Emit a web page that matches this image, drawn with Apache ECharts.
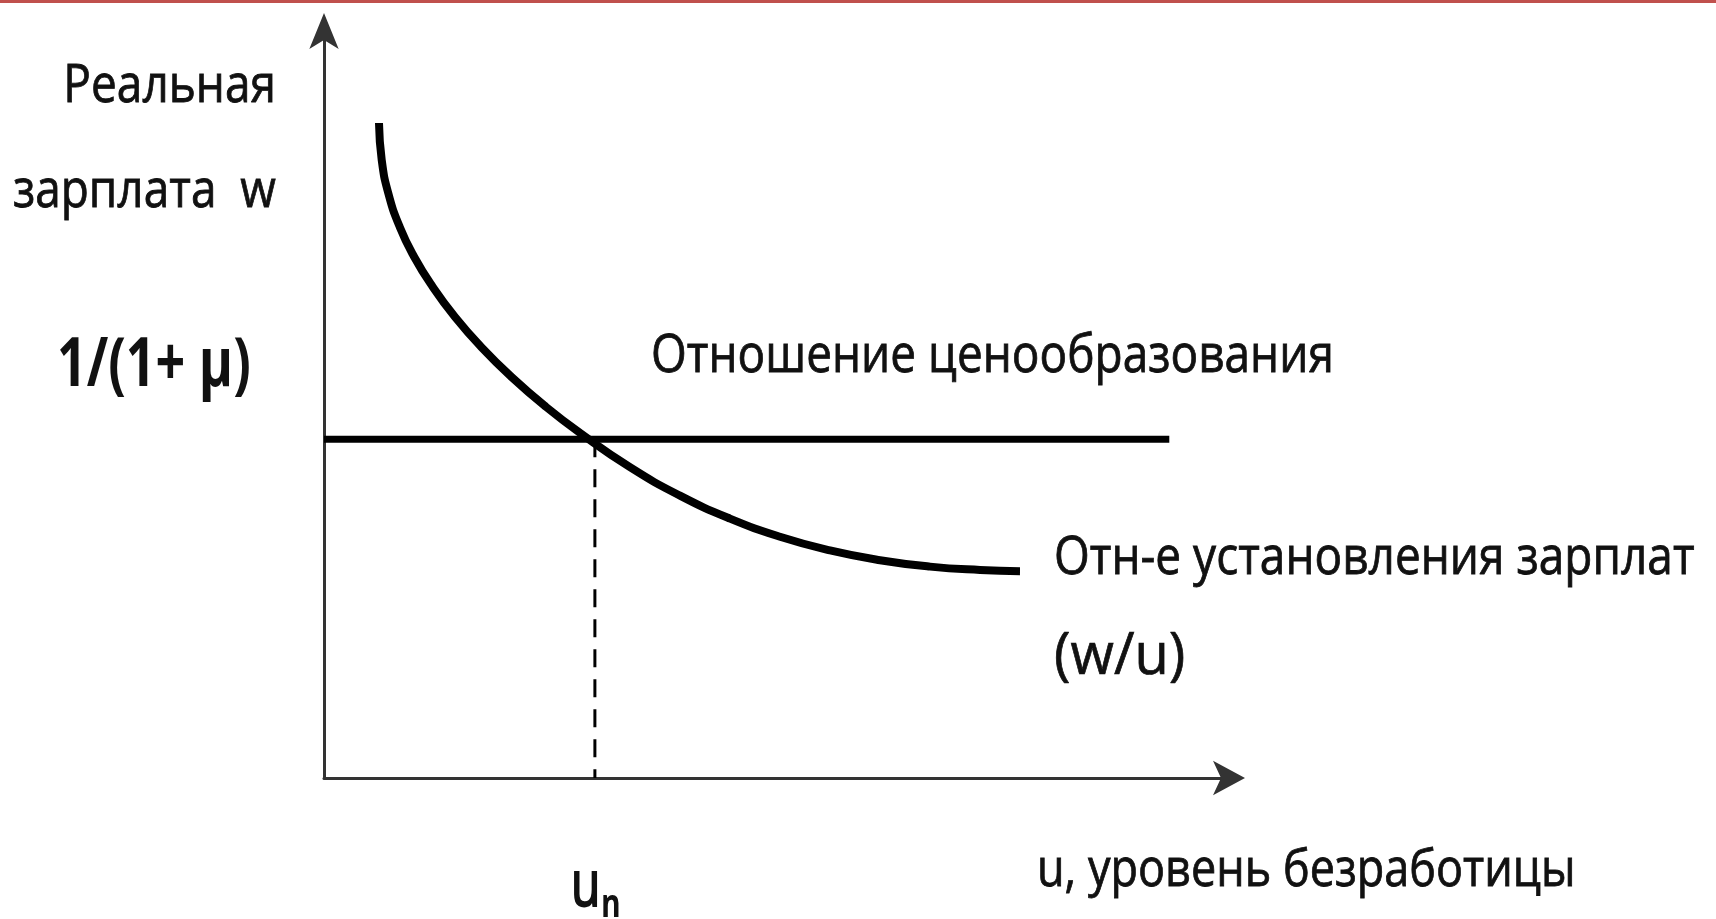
<!DOCTYPE html>
<html>
<head>
<meta charset="utf-8">
<script src="https://cdn.jsdelivr.net/npm/echarts@6/dist/echarts.min.js"></script>
<style>
html,body{margin:0;padding:0;background:#fff;}
#chart{width:1716px;height:919px;}
</style>
</head>
<body>
<div id="chart"></div>
<script>
// Wage-setting relation (w/u): unemployment u vs real wage w (schematic units 0..100)
const wageU = [6.07, 6.37, 7.09, 8.36, 9.96, 12.01, 14.46, 17.35, 20.70, 24.52, 28.27, 33.77, 39.29, 44.81, 50.33, 55.85, 61.37, 66.89, 72.41, 76.82];
const wageW = [87.57, 82.62, 78.21, 73.66, 69.65, 65.64, 61.63, 57.62, 53.61, 49.60, 46.12, 41.55, 37.75, 34.68, 32.26, 30.43, 29.12, 28.26, 27.81, 27.65];
// Price-setting relation: horizontal level 1/(1+mu)
const priceU = [0, 93.3];
const priceLevel = 45.3;
// Natural unemployment rate u_n
const naturalU = 29.9;

const yName1 = 'Реальная';
const yName2 = 'зарплата  w';
const priceLabel = '1/(1+ μ)';
const priceRelLabel = 'Отношение ценообразования';
const wageRelLabel1 = 'Отн-е установления зарплат';
const wageRelLabel2 = '(w/u)';
const xName = 'u, уровень безработицы';

const chart = echarts.init(document.getElementById('chart'));
const FONT = '"Open Sans", "Noto Sans", sans-serif';
const txt = (text, x, y, size, align, opts) => ({
  type: 'text', x: x, y: y, scaleY: (opts && opts.sy) || 1.15, z: 10,
  style: { text: text, x: 0, y: 0, fill: '#111', stroke: '#111', lineWidth: (opts && opts.lw != null) ? opts.lw : 0.7,
           font: ((opts && opts.bold) ? 'bold ' : '') + size + 'px ' + FONT,
           align: align, verticalAlign: 'middle' }
});

chart.setOption({
  animation: false,
  backgroundColor: '#fff',
  grid: { left: 324, right: 486, top: 30, bottom: 141 },
  xAxis: {
    type: 'value', min: 0, max: 100,
    axisLine: { show: true, lineStyle: { color: '#333', width: 3 }, symbol: ['none', 'arrow'], symbolSize: [26, 32], symbolOffset: [0, 15] },
    axisTick: { show: false }, axisLabel: { show: false }, splitLine: { show: false }
  },
  yAxis: {
    type: 'value', min: 0, max: 100,
    axisLine: { show: true, lineStyle: { color: '#333', width: 3 }, symbol: ['none', 'arrow'], symbolSize: [22, 36], symbolOffset: [0, 17] },
    axisTick: { show: false }, axisLabel: { show: false }, splitLine: { show: false }
  },
  series: [
    {
      type: 'line', name: 'wage', smooth: 0.5, showSymbol: false, silent: true,
      lineStyle: { color: '#000', width: 8 },
      data: wageU.map((u, i) => [u, wageW[i]])
    },
    {
      type: 'line', name: 'price', showSymbol: false, silent: true,
      lineStyle: { color: '#000', width: 7 },
      data: priceU.map(u => [u, priceLevel])
    },
    {
      type: 'line', name: 'un', showSymbol: false, silent: true,
      lineStyle: { color: '#000', width: 3, type: [18, 12] },
      data: [[naturalU, priceLevel], [naturalU, 0]]
    }
  ],
  graphic: [
    { type: 'rect', shape: { x: 0, y: 0, width: 1716, height: 3 }, style: { fill: '#c0504d' } },
    txt(yName1, 276, 87, 46, 'right'),
    txt(yName2, 276, 192, 46, 'right'),
    txt(priceLabel, 57, 367, 52, 'left', { bold: true, sy: 1.3, lw: 0 }),
    txt(priceRelLabel, 651, 357, 46, 'left'),
    txt(wageRelLabel1, 1054, 559, 46, 'left'),
    txt(wageRelLabel2, 1054, 657, 56, 'left', { sy: 1.05 }),
    txt('u', 571, 888, 48, 'left', { sy: 1.35, lw: 1.5 }),
    txt('n', 601, 906, 30, 'left', { bold: true, sy: 1.3, lw: 0 }),
    txt(xName, 1037, 871, 45, 'left')
  ]
});
</script>
</body>
</html>
